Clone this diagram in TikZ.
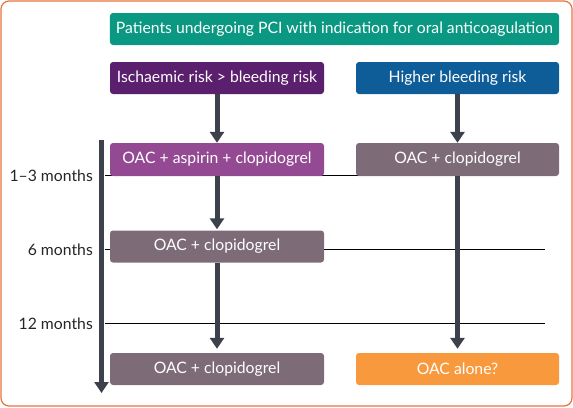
\documentclass[tikz,border=0pt]{standalone}
\usepackage{fontspec}
\setmainfont{Lato}
\usetikzlibrary{arrows.meta}
\definecolor{frameor}{HTML}{E8733A}
\definecolor{teal}{HTML}{0A9882}
\definecolor{dpurple}{HTML}{5A1F6D}
\definecolor{dblue}{HTML}{0F5D98}
\definecolor{lpurple}{HTML}{944A92}
\definecolor{mauve}{HTML}{7D6C77}
\definecolor{orangebox}{HTML}{F7993C}
\definecolor{arrowgrey}{HTML}{3C414C}
\tikzset{
  box/.style={rectangle, rounded corners=3bp, text=white, inner sep=0pt,
    minimum height=32bp, font=\fontsize{15.8}{18}\selectfont},
  flow/.style={draw=arrowgrey, line width=5bp, -{Triangle[length=11bp,width=14bp]}},
  tick/.style={draw=black, line width=0.8bp},
  tlabel/.style={anchor=east, inner sep=0pt, font=\fontsize{15.8}{18}\selectfont, text=black!85}
}
\begin{document}
\begin{tikzpicture}[x=1bp,y=-1bp]
\useasboundingbox (0,0) rectangle (573,407);
\draw[frameor, line width=1.2bp, rounded corners=8bp] (1,1) rectangle (572,406);
% time lines
\coordinate (l1a) at (105,175); \coordinate (l1b) at (545,175);
\coordinate (l2a) at (105,249); \coordinate (l2b) at (545,249);
\coordinate (l3a) at (105,323); \coordinate (l3b) at (545,323);
\draw[tick] (l1a) -- (l1b);
\draw[tick] (l2a) -- (l2b);
\draw[tick] (l3a) -- (l3b);
\node[tlabel] (m1) at (93,176) {1–3 months};
\node[tlabel] (m2) at (93,250) {6 months};
\node[tlabel] (m3) at (93,324) {12 months};
% timeline arrow
\coordinate (ta) at (101.5,140);
\coordinate (tb) at (101.5,393);
\draw[flow] (ta) -- (tb);
% boxes
\node[box, fill=teal, minimum width=449bp] (top) at (334.5,29) {Patients undergoing PCI with indication for oral anticoagulation};
\node[box, fill=dpurple, minimum width=214bp] (isch) at (217,78) {Ischaemic risk > bleeding risk};
\node[box, fill=dblue, minimum width=203bp] (bleed) at (457.5,78) {Higher bleeding risk};
\node[box, fill=lpurple, minimum width=214bp, minimum height=33bp] (triple) at (217,159.5) {OAC + aspirin + clopidogrel};
\node[box, fill=mauve, minimum width=203bp, minimum height=33bp] (dualR) at (457.5,159.5) {OAC + clopidogrel};
\node[box, fill=mauve, minimum width=214bp] (dual6) at (217,246.5) {OAC + clopidogrel};
\node[box, fill=mauve, minimum width=214bp] (dual12) at (217,369) {OAC + clopidogrel};
\node[box, fill=orangebox, minimum width=203bp] (oac) at (457.5,369) {OAC alone?};
% arrows
\draw[flow] (isch.south) -- (triple.north);
\draw[flow, shorten >=1bp] (triple.south) -- (dual6.north);
\draw[flow, shorten >=4bp] (dual6.south) -- (dual12.north);
\draw[flow] (bleed.south) -- (dualR.north);
\draw[flow, shorten >=4bp] (dualR.south) -- (oac.north);
\end{tikzpicture}
\end{document}
